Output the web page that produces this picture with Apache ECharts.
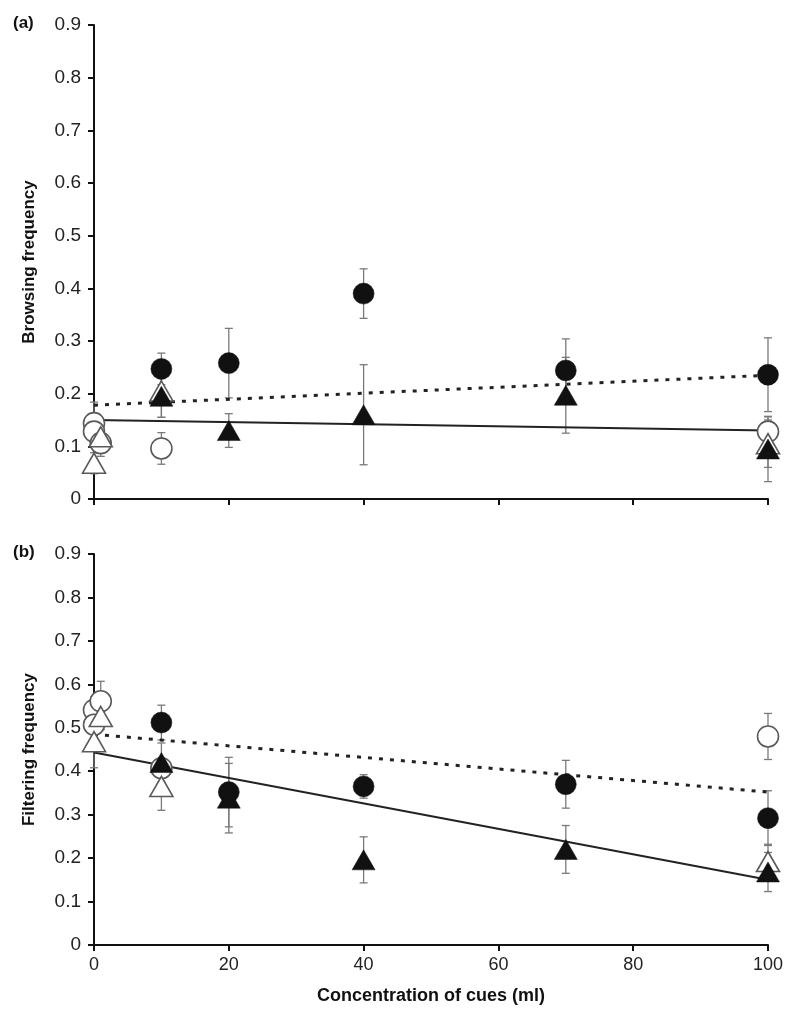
<!DOCTYPE html>
<html>
<head>
<meta charset="utf-8">
<script src="https://cdn.jsdelivr.net/npm/echarts@6/dist/echarts.min.js"></script>
<style>
html,body{margin:0;padding:0;background:#fff;}
#chart{width:800px;height:1019px;}
</style>
</head>
<body>
<div id="chart"></div>
<script>
// ---- data ----
const xTicks = [0, 20, 40, 60, 80, 100];
const yTicks = [0, 0.1, 0.2, 0.3, 0.4, 0.5, 0.6, 0.7, 0.8, 0.9];
const xFilled = [10, 20, 40, 70, 100];

// panel (a) Browsing frequency
const browseCircle = [0.247, 0.258, 0.39, 0.244, 0.236];
const browseCircleErr = [0.03, 0.066, 0.047, 0.06, 0.07];
const browseTri = [0.195, 0.13, 0.16, 0.197, 0.095];
const browseTriErr = [0.04, 0.032, 0.095, 0.072, 0.062];
const xOpenCircle = [0, 0, 1, 10, 100];
const browseOpenCircle = [0.144, 0.128, 0.106, 0.096, 0.128];
const browseOpenCircleErr = [0.04, 0.02, 0.025, 0.03, 0.028];
const xOpenTri = [0, 1, 10, 100];
const browseOpenTri = [0.068, 0.118, 0.205, 0.105];
const browseOpenTriErr = [0.02, 0.03, 0.05, 0.045];
const browseDotted = [0.178, 0.235];
const browseSolid = [0.15, 0.13];

// panel (b) Filtering frequency
const filterCircle = [0.512, 0.352, 0.365, 0.37, 0.292];
const filterCircleErr = [0.04, 0.08, 0.027, 0.055, 0.063];
const filterTri = [0.42, 0.338, 0.196, 0.22, 0.168];
const filterTriErr = [0.045, 0.08, 0.053, 0.055, 0.045];
const filterOpenCircle = [0.541, 0.507, 0.561, 0.407, 0.48];
const filterOpenCircleErr = [0.03, 0.03, 0.046, 0.02, 0.053];
const filterOpenTri = [0.468, 0.526, 0.365, 0.192];
const filterOpenTriErr = [0.06, 0.03, 0.055, 0.04];
const filterDotted = [0.485, 0.352];
const filterSolid = [0.443, 0.15];
const lineX = [0, 100];

// ---- helpers ----
const pts = (xs, ys) => xs.map((x, i) => [x, ys[i]]);
const errs = (xs, ys, es) => xs.map((x, i) => [x, ys[i] - es[i], ys[i] + es[i]]);

function errSeries(idx, data) {
  return {
    type: 'custom', xAxisIndex: idx, yAxisIndex: idx, z: 1, silent: true,
    data: data,
    renderItem: function (params, api) {
      const x = api.value(0);
      const lo = api.coord([x, api.value(1)]);
      const hi = api.coord([x, api.value(2)]);
      const w = 4;
      const st = { stroke: '#7a7a7a', lineWidth: 1.3 };
      return { type: 'group', children: [
        { type: 'line', shape: { x1: lo[0], y1: lo[1], x2: hi[0], y2: hi[1] }, style: st },
        { type: 'line', shape: { x1: lo[0] - w, y1: lo[1], x2: lo[0] + w, y2: lo[1] }, style: st },
        { type: 'line', shape: { x1: hi[0] - w, y1: hi[1], x2: hi[0] + w, y2: hi[1] }, style: st }
      ]};
    }
  };
}
function scat(idx, data, symbol, open, z) {
  return {
    type: 'scatter', xAxisIndex: idx, yAxisIndex: idx, z: z, silent: true,
    symbol: symbol,
    symbolSize: symbol === 'circle' ? 21 : [23, 20],
    itemStyle: open ? { color: '#fff', borderColor: '#5a5a5a', borderWidth: 1.6, opacity: 1 }
                    : { color: '#111', borderColor: '#111', borderWidth: 0.5, opacity: 1 },
    data: data
  };
}
function regLine(idx, ys, dotted) {
  return {
    type: 'line', xAxisIndex: idx, yAxisIndex: idx, z: 2, silent: true,
    symbol: 'none',
    lineStyle: dotted ? { color: '#222', width: 3, type: [4, 7] } : { color: '#222', width: 2 },
    data: pts(lineX, ys)
  };
}

const labelFont = { fontFamily: 'Liberation Sans, Arial, sans-serif', fontSize: 19, color: '#222' };
function yAx(idx, name) {
  return {
    type: 'value', gridIndex: idx, min: 0, max: 0.9, interval: 0.1,
    name: name, nameLocation: 'middle', nameGap: 56, nameRotate: 90,
    nameTextStyle: { fontFamily: 'Liberation Sans, Arial, sans-serif', fontWeight: 'bold', fontSize: 17, color: '#111' },
    axisLine: { show: true, lineStyle: { color: '#111', width: 2 } },
    axisTick: { show: true, length: 6, lineStyle: { color: '#111', width: 2 } },
    splitLine: { show: false },
    axisLabel: Object.assign({ margin: 13, formatter: v => v === 0 ? '0' : v.toFixed(1) }, labelFont)
  };
}
function xAx(idx, showLabels) {
  return {
    type: 'value', gridIndex: idx, min: 0, max: 100, interval: 20,
    name: showLabels ? 'Concentration of cues (ml)' : '',
    nameLocation: 'middle', nameGap: 42,
    nameTextStyle: { fontFamily: 'Liberation Sans Narrow, Arial Narrow, Liberation Sans, sans-serif', fontWeight: 'bold', fontSize: 18, color: '#111' },
    axisLine: { show: true, onZero: false, lineStyle: { color: '#111', width: 2 } },
    axisTick: { show: true, length: 6, lineStyle: { color: '#111', width: 2 } },
    splitLine: { show: false },
    axisLabel: { show: showLabels, margin: 11, fontFamily: 'Liberation Sans Narrow, Arial Narrow, Liberation Sans, sans-serif', fontSize: 18, color: '#222' }
  };
}

const chart = echarts.init(document.getElementById('chart'));
chart.setOption({
  animation: false,
  backgroundColor: '#fff',
  grid: [
    { left: 94, top: 25, width: 674, height: 474 },
    { left: 94, top: 554, width: 674, height: 391 }
  ],
  xAxis: [xAx(0, false), xAx(1, true)],
  yAxis: [yAx(0, 'Browsing frequency'), yAx(1, 'Filtering frequency')],
  graphic: [
    { type: 'text', left: 13, top: 15, style: { text: '(a)', font: 'bold 17px Liberation Sans, Arial, sans-serif', fill: '#111' } },
    { type: 'text', left: 13, top: 544, style: { text: '(b)', font: 'bold 17px Liberation Sans, Arial, sans-serif', fill: '#111' } }
  ],
  series: [
    errSeries(0, errs(xFilled, browseCircle, browseCircleErr)),
    errSeries(0, errs(xFilled, browseTri, browseTriErr)),
    errSeries(0, errs(xOpenCircle, browseOpenCircle, browseOpenCircleErr)),
    errSeries(0, errs(xOpenTri, browseOpenTri, browseOpenTriErr)),
    regLine(0, browseDotted, true),
    regLine(0, browseSolid, false),
    scat(0, pts(xOpenCircle, browseOpenCircle), 'circle', true, 3),
    scat(0, pts(xOpenTri, browseOpenTri), 'triangle', true, 4),
    scat(0, pts(xFilled, browseCircle), 'circle', false, 5),
    scat(0, pts(xFilled, browseTri), 'triangle', false, 6),

    errSeries(1, errs(xFilled, filterCircle, filterCircleErr)),
    errSeries(1, errs(xFilled, filterTri, filterTriErr)),
    errSeries(1, errs(xOpenCircle, filterOpenCircle, filterOpenCircleErr)),
    errSeries(1, errs(xOpenTri, filterOpenTri, filterOpenTriErr)),
    regLine(1, filterDotted, true),
    regLine(1, filterSolid, false),
    scat(1, pts(xOpenCircle, filterOpenCircle), 'circle', true, 3),
    scat(1, pts(xOpenTri, filterOpenTri), 'triangle', true, 4),
    scat(1, pts(xFilled, filterCircle), 'circle', false, 5),
    scat(1, pts(xFilled, filterTri), 'triangle', false, 6)
  ]
});
</script>
</body>
</html>
